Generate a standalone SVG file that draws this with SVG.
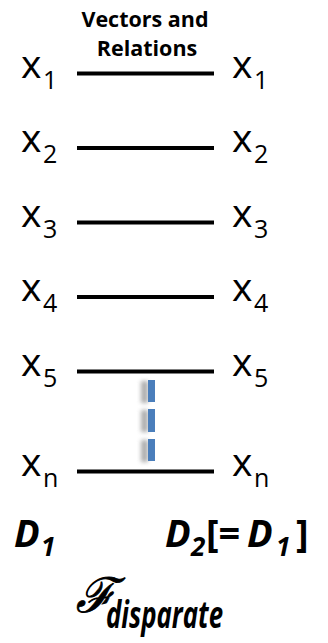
<svg xmlns="http://www.w3.org/2000/svg" width="328" height="643" viewBox="0 0 328 643">
<defs>
<style>
.v{font-family:"Open Sans","Liberation Sans",sans-serif;font-size:39px;fill:#000}
.s{font-size:25px}
.h{font-family:"Open Sans","Liberation Sans",sans-serif;font-weight:bold;font-size:21.5px;fill:#000;text-anchor:middle}
.d{font-family:"Open Sans","Liberation Sans",sans-serif;font-weight:bold;font-style:italic;font-size:38px;fill:#000}
.ds{font-size:26px}
.c line{stroke:#000;stroke-width:4}
.dash{fill:#4a7ebb}
.sh{fill:#777;opacity:0.6}
</style>
<filter id="blur" x="-1" y="-1" width="3" height="3"><feGaussianBlur stdDeviation="2"/></filter>
</defs>
<rect width="328" height="643" fill="#fff"/>
<g id="header"><text class="h" x="145" y="27">Vectors and</text><text class="h" x="147" y="56">Relations</text></g>
<g id="L1"><text class="v" x="21" y="77.5">x<tspan class="s" x="43" y="88.5">1</tspan></text></g>
<g id="L2"><text class="v" x="21" y="152">x<tspan class="s" x="43" y="163">2</tspan></text></g>
<g id="L3"><text class="v" x="21" y="226.5">x<tspan class="s" x="43" y="237.5">3</tspan></text></g>
<g id="L4"><text class="v" x="21" y="301">x<tspan class="s" x="43" y="312">4</tspan></text></g>
<g id="L5"><text class="v" x="21" y="375.5">x<tspan class="s" x="43" y="386.5">5</tspan></text></g>
<g id="Ln"><text class="v" x="21" y="475.5">x<tspan class="s" x="43" y="486.5">n</tspan></text></g>
<g id="R1"><text class="v" x="232" y="77.5">x<tspan class="s" x="254" y="88.5">1</tspan></text></g>
<g id="R2"><text class="v" x="232" y="152">x<tspan class="s" x="254" y="163">2</tspan></text></g>
<g id="R3"><text class="v" x="232" y="226.5">x<tspan class="s" x="254" y="237.5">3</tspan></text></g>
<g id="R4"><text class="v" x="232" y="301">x<tspan class="s" x="254" y="312">4</tspan></text></g>
<g id="R5"><text class="v" x="232" y="375.5">x<tspan class="s" x="254" y="386.5">5</tspan></text></g>
<g id="Rn"><text class="v" x="232" y="475.5">x<tspan class="s" x="254" y="486.5">n</tspan></text></g>
<g id="connectors" class="c">
<line x1="77" y1="73.5" x2="214" y2="73.5"/>
<line x1="77" y1="148" x2="214" y2="148"/>
<line x1="77" y1="222.5" x2="214" y2="222.5"/>
<line x1="77" y1="297" x2="214" y2="297"/>
<line x1="77" y1="371.5" x2="214" y2="371.5"/>
<line x1="77" y1="471.5" x2="214" y2="471.5"/>
</g>
<g id="ellipsis">
<g filter="url(#blur)" class="sh"><rect x="141" y="381" width="7" height="22"/><rect x="141" y="410" width="7" height="22"/><rect x="141" y="440" width="7" height="22"/></g>
<rect class="dash" x="148" y="380" width="7" height="22"/>
<rect class="dash" x="148" y="409" width="7" height="23"/>
<rect class="dash" x="148" y="439" width="7" height="22"/>
</g>
<g id="D1"><text class="d" x="14" y="547">D<tspan class="ds" x="41" y="556">1</tspan></text></g>
<g id="D2"><text class="d" x="165" y="547">D<tspan class="ds" x="191" y="556">2</tspan><tspan x="206" y="547" font-style="normal">[=</tspan><tspan x="247" y="547">D</tspan><tspan class="ds" x="276" y="556">1</tspan><tspan x="296" y="547" font-style="normal">]</tspan></text></g>
<g id="F"><text x="76" y="612" font-family="DejaVu Serif,serif" font-style="italic" font-size="48" fill="#000" stroke="#000" stroke-width="0.9">ℱ</text><text class="d" x="106" y="628" font-size="23" textLength="117" lengthAdjust="spacingAndGlyphs">disparate</text></g>
</svg>
